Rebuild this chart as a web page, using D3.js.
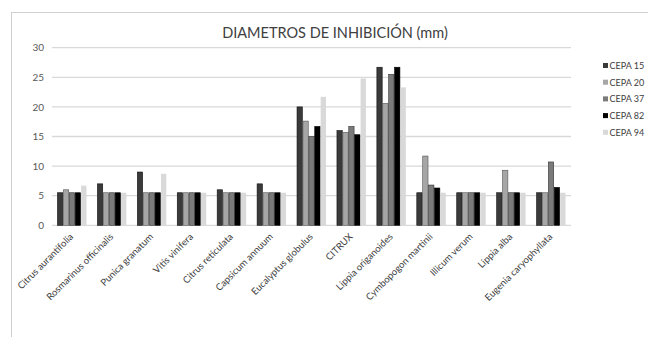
<!DOCTYPE html>
<html>
<head>
<meta charset="utf-8">
<script src="https://cdn.jsdelivr.net/npm/d3@7"></script>
<style>
  body { margin: 0; background: #fff; }
  svg { font-family: Lato, "Open Sans", sans-serif; }
</style>
</head>
<body>
<svg id="mainFrame"></svg>
<script>
const species = ['Citrus aurantifolia', 'Rosmarinus officinalis', 'Punica granatum', 'Vitis vinifera',
    'Citrus reticulata', 'Capsicum annuum', 'Eucalyptus globulus', 'CITRUX', 'Lippia origanoides',
    'Cymbopogon martinii', 'Illicum verum', 'Lippia alba', 'Eugenia caryophyllata']
const strains = ['CEPA 15', 'CEPA 20', 'CEPA 37', 'CEPA 82', 'CEPA 94']
const cepa15 = [5.5, 7.0, 9.0, 5.5, 6.0, 7.0, 20.0, 16.0, 26.7, 5.5, 5.5, 5.5, 5.5]
const cepa20 = [6.0, 5.5, 5.5, 5.5, 5.5, 5.5, 17.6, 15.7, 20.6, 11.7, 5.5, 9.3, 5.5]
const cepa37 = [5.5, 5.5, 5.5, 5.5, 5.5, 5.5, 15.0, 16.7, 25.5, 6.8, 5.5, 5.5, 10.7]
const cepa82 = [5.5, 5.5, 5.5, 5.5, 5.5, 5.5, 16.7, 15.3, 26.7, 6.3, 5.5, 5.5, 6.4]
const cepa94 = [6.7, 5.5, 8.7, 5.5, 5.5, 5.5, 21.7, 24.8, 23.3, 5.5, 5.5, 5.5, 5.5]
const yTicks = [0, 5, 10, 15, 20, 25, 30]

const seriesValues = [cepa15, cepa20, cepa37, cepa82, cepa94]
const fills = ['#3a3a3a', '#a6a6a6', '#7a7a7a', '#000000', '#d9d9d9']
const strokes = ['#111', '#555', '#333', '#000', 'none']

const svg = d3.select('#mainFrame')
    .attr('width', 648)
    .attr('height', 337)

// chart border (runs off the right and bottom edges)
svg.append('rect')
    .attr('x', 11.5).attr('y', 12.5)
    .attr('width', 700).attr('height', 400)
    .attr('fill', 'none')
    .attr('stroke', '#d0d0d0')

svg.append('text')
    .attr('x', 335).attr('y', 38)
    .attr('text-anchor', 'middle')
    .attr('font-size', 14.5)
    .attr('fill', '#404040')
    .text('DIAMETROS DE INHIBICIÓN (mm)')

const plot = {left: 52, right: 571, top: 47.7, bottom: 225.3}

const x0 = d3.scaleBand()
    .domain(species)
    .range([plot.left, plot.right])
    .paddingInner(0.26)
    .paddingOuter(0.13)

const x1 = d3.scaleBand()
    .domain(strains)
    .range([0, x0.bandwidth()])

const y = d3.scaleLinear()
    .domain([0, 30])
    .range([plot.bottom, plot.top])

// gridlines
svg.append('g')
    .selectAll('line')
    .data(yTicks)
    .join('line')
    .attr('x1', plot.left).attr('x2', plot.right)
    .attr('y1', d => y(d)).attr('y2', d => y(d))
    .attr('stroke', '#d9d9d9')
    .attr('stroke-width', 1.3)

// y axis labels
const yAxis = svg.append('g')
    .attr('transform', `translate(${plot.left - 8},0)`)
    .call(d3.axisLeft(y).tickValues(yTicks).tickSize(0).tickPadding(0))
yAxis.select('.domain').remove()
yAxis.selectAll('text')
    .attr('font-family', 'Lato, sans-serif')
    .attr('font-size', 10)
    .attr('fill', '#595959')

// bars
const groups = svg.append('g')
    .selectAll('g')
    .data(species)
    .join('g')
    .attr('transform', d => `translate(${x0(d)},0)`)

groups.selectAll('rect')
    .data((d, i) => strains.map((s, j) => ({strain: s, idx: j, value: seriesValues[j][i]})))
    .join('rect')
    .attr('x', d => x1(d.strain) + 0.3)
    .attr('width', x1.bandwidth() - 0.6)
    .attr('y', d => y(d.value))
    .attr('height', d => y(0) - y(d.value))
    .attr('fill', d => fills[d.idx])
    .attr('stroke', d => strokes[d.idx])
    .attr('stroke-width', 0.6)

// category labels
const xAxis = svg.append('g')
    .attr('transform', `translate(0,${plot.bottom})`)
    .call(d3.axisBottom(x0).tickSize(0).tickPadding(0))
xAxis.select('.domain').remove()
xAxis.selectAll('text')
    .attr('font-family', 'Lato, sans-serif')
    .attr('font-size', 9.5)
    .attr('fill', '#404040')
    .attr('text-anchor', 'end')
    .attr('dy', null)
    .attr('transform', 'translate(2,12) rotate(-45)')

// legend
const legend = svg.append('g')
    .selectAll('g')
    .data(strains)
    .join('g')
    .attr('transform', (d, i) => `translate(603,${66 + i * 16.7})`)

legend.append('rect')
    .attr('x', 0).attr('y', -3)
    .attr('width', 5).attr('height', 5)
    .attr('fill', (d, i) => fills[i])

legend.append('text')
    .attr('x', 6.5).attr('y', 3)
    .attr('font-size', 9)
    .attr('fill', '#404040')
    .text(d => d)
</script>
</body>
</html>
